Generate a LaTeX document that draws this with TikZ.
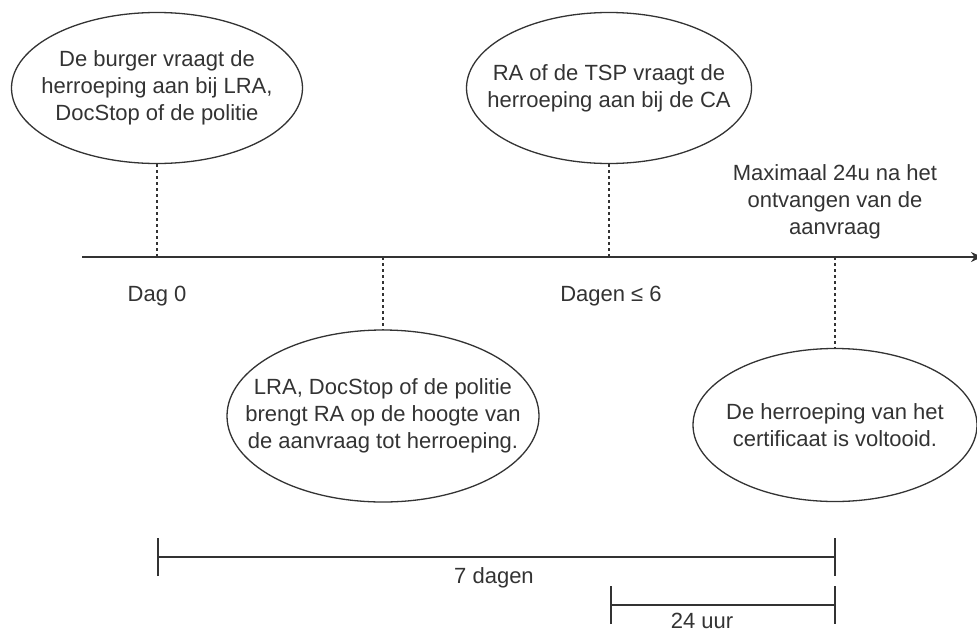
\documentclass[tikz,border=0pt]{standalone}
\usepackage{fontspec}
\setmainfont{Liberation Sans}
\usetikzlibrary{shapes.geometric,arrows.meta}
\definecolor{ink}{HTML}{333333}
\begin{document}
\begin{tikzpicture}[
			x=1pt,y=-1pt,
			every node/.style={text=ink,font=\fontsize{22}{27}\selectfont,align=center},
			event/.style={ellipse,draw=ink,line width=1.3pt,inner sep=0pt},
			guide/.style={draw=ink,line width=1.2pt,dash pattern=on 3pt off 3pt},
			span/.style={draw=ink,line width=1.8pt,{Bar[width=38pt,line width=1.8pt]}-{Bar[width=38pt,line width=1.8pt]}}
		]
		\useasboundingbox (0,0) rectangle (977,632);
		% tijdlijn
		\coordinate (start) at (82,257);
		\coordinate (eind) at (982,257);
		\coordinate (t0) at (157,257);
		\coordinate (t1) at (383,257);
		\coordinate (t2) at (609,257);
		\coordinate (t3) at (835,257);
		\draw[draw=ink,line width=1.8pt,-{Stealth[length=11pt,width=10pt]}] (start) -- (eind);
		% gebeurtenissen
		\node[event,minimum width=291pt,minimum height=151pt,
			label={center:{De burger vraagt de\\herroeping aan bij LRA,\\DocStop of de politie}}] (burger) at (157,88) {};
		\node[event,minimum width=285pt,minimum height=151pt,
			label={center:{RA of de TSP vraagt de\\herroeping aan bij de CA}}] (tsp) at (609,88) {};
		\node[event,minimum width=312pt,minimum height=172pt,
			label={center:{LRA, DocStop of de politie\\brengt RA op de hoogte van\\de aanvraag tot herroeping.}}] (lra) at (383,416) {};
		\node[event,minimum width=284pt,minimum height=153pt,
			label={center:{De herroeping van het\\certificaat is voltooid.}}] (voltooid) at (835,425) {};
		\draw[guide] (burger.south) -- (t0);
		\draw[guide] (t1) -- (lra.north);
		\draw[guide] (tsp.south) -- (t2);
		\draw[guide] (t3) -- (voltooid.north);
		% labels
		\node (dag0) at (157,296) {Dag 0};
		\node (dag6) at (611,296) {Dagen ≤ 6};
		\node (max) at (835,202) {Maximaal 24u na het\\ontvangen van de\\aanvraag};
		% duur
		\coordinate (a0) at (157,557);
		\coordinate (a1) at (836,557);
		\coordinate (b0) at (610,605);
		\coordinate (b1) at (836,605);
		\draw[span] (a0) -- (a1);
		\draw[span] (b0) -- (b1);
		\node (zeven) at (494,578) {7 dagen};
		\node (uur) at (702,621) {24 uur};
	\end{tikzpicture}
\end{document}
